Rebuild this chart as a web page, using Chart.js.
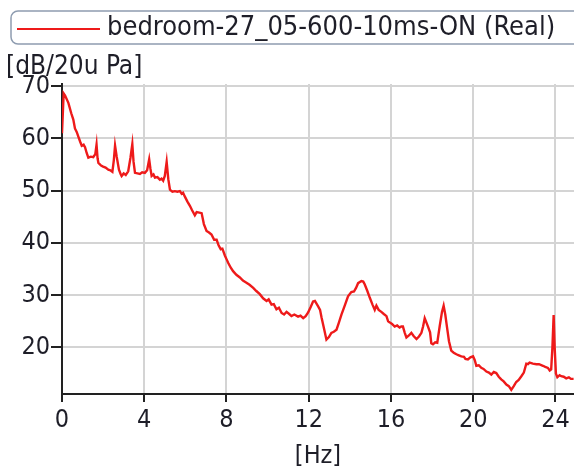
<!DOCTYPE html>
<html>
<head>
<meta charset="utf-8">
<script src="https://cdn.jsdelivr.net/npm/chart.js@4.4.0/dist/chart.umd.min.js"></script>
<style>
  html, body { margin: 0; padding: 0; background: #fff; }
  #wrap { width: 574px; height: 471px; position: relative; }
</style>
</head>
<body>
<div id="wrap"><canvas id="spectrum"></canvas></div>
<script>
const seriesLabel = "bedroom-27_05-600-10ms-ON (Real)";
const yUnit = "[dB/20u Pa]";
const xUnit = "[Hz]";

// frequency (Hz) and level (dB)
const freqs = [
  0, 0.08, 0.15, 0.31, 0.45, 0.55, 0.63, 0.72, 0.79, 0.88, 0.96, 1.05, 1.12, 1.2, 1.28, 1.4, 1.52, 1.62, 1.68, 1.73,
  1.77, 1.9, 2.0, 2.12, 2.25, 2.35, 2.45, 2.52, 2.58, 2.66, 2.77, 2.85, 2.9, 3.0, 3.1, 3.22, 3.33, 3.42, 3.48, 3.55,
  3.67, 3.79, 3.9, 4.03, 4.14, 4.24, 4.3, 4.36, 4.45, 4.52, 4.64, 4.76, 4.84, 4.92, 5.0, 5.09, 5.17, 5.25, 5.37, 5.49,
  5.61, 5.73, 5.82, 5.89, 5.97, 6.1, 6.22, 6.32, 6.46, 6.55, 6.68, 6.79, 6.9, 7.03, 7.15, 7.27, 7.4, 7.52, 7.62, 7.72,
  7.8, 7.92, 8.0, 8.08, 8.2, 8.32, 8.48, 8.65, 8.8, 8.97, 9.12, 9.3, 9.45, 9.62, 9.78, 9.95, 10.05, 10.19, 10.3, 10.43,
  10.55, 10.68, 10.8, 10.92, 11.05, 11.16, 11.3, 11.48, 11.6, 11.73, 11.85, 11.97, 12.1, 12.21, 12.3, 12.45, 12.55, 12.62, 12.75, 12.86,
  12.98, 13.1, 13.22, 13.35, 13.47, 13.59, 13.75, 13.91, 14.07, 14.2, 14.3, 14.4, 14.56, 14.65, 14.72, 14.85, 14.97, 15.1, 15.21, 15.29,
  15.4, 15.53, 15.65, 15.78, 15.86, 15.94, 16.05, 16.18, 16.3, 16.42, 16.5, 16.58, 16.67, 16.75, 16.87, 16.99, 17.1, 17.24, 17.36, 17.48,
  17.56, 17.64, 17.72, 17.8, 17.9, 17.96, 18.04, 18.15, 18.25, 18.37, 18.48, 18.56, 18.64, 18.72, 18.82, 18.93, 19.05, 19.18, 19.3, 19.42,
  19.55, 19.62, 19.74, 19.86, 19.99, 20.07, 20.15, 20.27, 20.39, 20.5, 20.64, 20.76, 20.88, 21.0, 21.12, 21.24, 21.36, 21.48, 21.61, 21.73,
  21.85, 21.97, 22.09, 22.21, 22.34, 22.46, 22.58, 22.66, 22.74, 22.9, 23.07, 23.2, 23.39, 23.5, 23.63, 23.72, 23.79, 23.85, 23.91, 23.96,
  24.02, 24.09, 24.2, 24.28, 24.4, 24.52, 24.65, 24.75, 24.88
];
const levels = [
  61, 68.6, 68.2, 66.8, 64.8, 63.6, 61.9, 61.2, 60.4, 59.4, 58.6, 58.8, 58.3, 57.2, 56.3, 56.5, 56.4, 57.0, 58.8, 56.2,
  55.3, 54.8, 54.6, 54.4, 54.0, 53.9, 53.6, 55.8, 58.6, 56.5, 54.0, 53.2, 52.8, 53.3, 53.0, 53.7, 56.3, 58.9, 55.5, 53.4,
  53.3, 53.2, 53.5, 53.4, 53.9, 56.0, 54.2, 52.8, 53.1, 52.5, 52.6, 52.1, 52.3, 51.9, 52.8, 55.5, 52.2, 50.2, 49.8, 49.9,
  49.8, 49.9, 49.4, 49.6, 48.9, 47.9, 47.1, 46.3, 45.3, 45.9, 45.8, 45.7, 43.6, 42.3, 42.0, 41.6, 40.6, 40.6, 39.5, 38.8,
  38.9, 37.6, 36.9, 36.2, 35.3, 34.6, 33.9, 33.4, 32.8, 32.4, 32.0, 31.4, 30.8, 30.2, 29.4, 28.9, 29.2, 28.2, 28.3, 27.3,
  27.6, 26.6, 26.3, 26.8, 26.4, 26.0, 26.3, 25.9, 26.1, 25.6, 26.0, 26.7, 27.8, 28.8, 28.9, 27.9, 27.2, 25.8, 23.5, 21.5,
  22.0, 22.8, 23.0, 23.4, 24.8, 26.3, 28.0, 29.8, 30.6, 30.7, 31.4, 32.3, 32.7, 32.6, 32.1, 30.8, 29.5, 28.2, 27.2, 28.0,
  27.2, 26.8, 26.4, 26.0, 25.0, 24.8, 24.5, 24.0, 24.2, 23.8, 24.0, 24.0, 22.8, 21.9, 22.3, 22.8, 22.2, 21.6, 22.1, 22.8,
  24.0, 25.6, 24.8, 24.0, 22.9, 20.8, 20.6, 21.0, 20.9, 24.1, 26.8, 28.0, 26.3, 24.0, 21.2, 19.4, 19.0, 18.7, 18.5, 18.3,
  18.2, 17.8, 17.7, 18.1, 18.3, 17.6, 16.5, 16.6, 16.1, 15.9, 15.4, 15.2, 14.8, 15.3, 15.1, 14.4, 13.9, 13.5, 12.9, 12.6,
  11.9, 12.6, 13.4, 13.8, 14.5, 15.2, 16.9, 16.8, 17.1, 16.9, 16.8, 16.8, 16.5, 16.3, 16.1, 15.6, 15.8, 20.0, 26.2, 20.0,
  15.0, 14.3, 14.7, 14.5, 14.4, 14.1, 14.3, 14.0, 14.0
];

const FONT = "'DejaVu Sans Condensed', 'DejaVu Sans', sans-serif";
const TEXT = "#1e1e28";
const RED = "#ee1a1a";

// legend box + horizontal y unit label, drawn like the original instrument plot
const decorations = {
  id: "decorations",
  afterDraw(chart) {
    const ctx = chart.ctx;
    ctx.save();
    ctx.strokeStyle = "#8e9cb0";
    ctx.lineWidth = 1.5;
    ctx.beginPath();
    ctx.roundRect(11, 11, 600, 33, 7);
    ctx.stroke();

    ctx.strokeStyle = RED;
    ctx.lineWidth = 2;
    ctx.beginPath();
    ctx.moveTo(17, 29);
    ctx.lineTo(100, 29);
    ctx.stroke();

    ctx.fillStyle = TEXT;
    ctx.font = "27px " + FONT;
    ctx.textBaseline = "middle";
    ctx.textAlign = "left";
    ctx.fillText(seriesLabel, 107, 28);

    ctx.font = "26px " + FONT;
    ctx.fillText(yUnit, 6, 67);
    ctx.restore();
  }
};

new Chart(document.getElementById("spectrum"), {
  type: "line",
  data: {
    datasets: [{
      label: seriesLabel,
      data: freqs.map((f, i) => ({ x: f, y: levels[i] })),
      borderColor: RED,
      backgroundColor: RED,
      borderWidth: 2.4,
      pointRadius: 0,
      tension: 0
    }]
  },
  options: {
    responsive: true,
    maintainAspectRatio: false,
    animation: false,
    layout: { padding: { top: 84, left: 0, right: 0, bottom: 0 } },
    plugins: {
      legend: { display: false },
      tooltip: { enabled: false }
    },
    scales: {
      x: {
        type: "linear",
        min: 0,
        max: 24.9,
        afterFit: s => { s.height = 77; },
        ticks: {
          stepSize: 4,
          includeBounds: false,
          color: TEXT,
          font: { family: FONT, size: 25 },
          padding: 3,
          maxRotation: 0
        },
        grid: { color: "#d4d4d4", lineWidth: 2, tickColor: "#222", tickLength: 8, tickWidth: 2 },
        border: { color: "#222", width: 2 },
        title: {
          display: true,
          text: xUnit,
          color: TEXT,
          font: { family: FONT, size: 25 },
          padding: { top: 0, bottom: 0 }
        }
      },
      y: {
        min: 11.1,
        max: 70.4,
        afterFit: s => { s.width = 62; },
        ticks: {
          stepSize: 10,
          includeBounds: false,
          color: TEXT,
          font: { family: FONT, size: 25 },
          padding: 1
        },
        grid: { color: "#d4d4d4", lineWidth: 2, tickColor: "#222", tickLength: 11, tickWidth: 2 },
        border: { color: "#222", width: 2 }
      }
    }
  },
  plugins: [decorations]
});
</script>
</body>
</html>
